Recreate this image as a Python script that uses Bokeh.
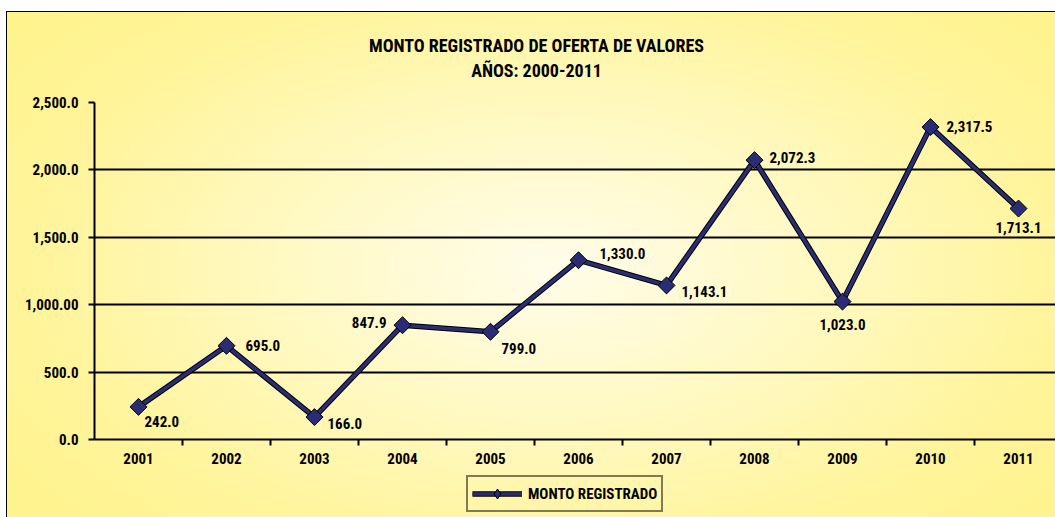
import math
from bokeh.plotting import figure
from bokeh.layouts import column
from bokeh.models import ColumnDataSource, FixedTicker, Legend, LegendItem, Label
from bokeh.embed import file_html
from bokeh.resources import INLINE

# ---- data ----
years = ["2001", "2002", "2003", "2004", "2005", "2006", "2007", "2008", "2009", "2010", "2011"]
monto = [242.0, 695.0, 166.0, 847.9, 799.0, 1330.0, 1143.1, 2072.3, 1023.0, 2317.5, 1713.1]
value_labels = ["242.0", "695.0", "166.0", "847.9", "799.0", "1,330.0", "1,143.1",
                "2,072.3", "1,023.0", "2,317.5", "1,713.1"]
y_ticks = [0, 500, 1000, 1500, 2000, 2500]
y_tick_labels = ["0.0", "500.0", "1,000.00", "1,500.0", "2,000.0", "2,500.0"]
title_lines = ["MONTO REGISTRADO DE OFERTA DE VALORES", "AÑOS: 2000-2011"]
series_name = "MONTO REGISTRADO"

# ---- label placement (styling, screen px; +dy = down) ----
lab_dx = [6, 19, 13, -16, 11, 21, 15, 15, 0, 16, 0]
lab_dy = [15, 0, 6, -3, 17, -7, 6, -3, 23, -1, 19]
lab_align = ["left", "left", "left", "right", "left", "left", "left", "left", "center", "left", "center"]

FONT = "'Roboto Condensed', 'Liberation Sans Narrow', Roboto, sans-serif"
NAVY = "#2B2D74"
W = 1055

xs = list(range(1, len(years) + 1))
src = ColumnDataSource(dict(x=xs, y=monto, txt=value_labels, dx=lab_dx, dy=lab_dy, al=lab_align))


def bare(fig):
    fig.background_fill_alpha = 0
    fig.border_fill_alpha = 0
    fig.outline_line_color = None


# ---- title strip ----
tf = figure(width=W, height=90, output_backend="svg", toolbar_location=None,
            x_axis_type=None, y_axis_type=None, x_range=(0, 1), y_range=(0, 1),
            min_border=0)
bare(tf)
for i, t in enumerate(title_lines):
    tf.add_layout(Label(x=442, y=45 - 25 * i, x_units="screen", y_units="screen",
                        text=t, text_align="center", text_baseline="middle",
                        text_font=FONT, text_font_style="bold",
                        text_font_size="18px", text_color="black"))

# ---- main chart ----
p = figure(width=W, height=385, output_backend="svg", toolbar_location=None,
           x_range=(0.5, 0.5 + 961 / 88), y_range=(0, 2500),
           min_border_left=94, min_border_right=0, min_border_top=12, min_border_bottom=36)
bare(p)

p.xaxis.ticker = FixedTicker(ticks=xs, minor_ticks=[i + 0.5 for i in xs[:-1]])
p.xaxis.major_label_overrides = {x: y for x, y in zip(xs, years)}
p.xaxis.major_tick_out = 0
p.xaxis.major_tick_in = 0
p.xaxis.minor_tick_out = 6
p.xaxis.minor_tick_in = 0
p.xaxis.minor_tick_line_color = "black"
p.xaxis.minor_tick_line_width = 2
p.xaxis.axis_line_color = "black"
p.xaxis.axis_line_width = 2
p.xaxis.major_label_standoff = 7

p.yaxis.ticker = FixedTicker(ticks=y_ticks)
p.yaxis.major_label_overrides = {t: l for t, l in zip(y_ticks, y_tick_labels)}
p.yaxis.major_tick_out = 6
p.yaxis.major_tick_in = 0
p.yaxis.major_tick_line_width = 2
p.yaxis.minor_tick_line_color = None
p.yaxis.axis_line_color = "black"
p.yaxis.axis_line_width = 2
p.yaxis.major_label_standoff = 10

for ax in (p.xaxis, p.yaxis):
    ax.major_label_text_font = FONT
    ax.major_label_text_font_style = "bold"
    ax.major_label_text_font_size = "15px"
    ax.major_label_text_color = "black"

p.xgrid.grid_line_color = None
p.ygrid.grid_line_color = "black"
p.ygrid.grid_line_width = 2

line_kw = dict(line_color="black", line_width=5.5)
navy_kw = dict(line_color=NAVY, line_width=3.5)
mark_kw = dict(marker="square", size=12, angle=math.pi / 4,
               fill_color=NAVY, line_color="black", line_width=1)
p.line("x", "y", source=src, **line_kw)
p.line("x", "y", source=src, **navy_kw)
p.scatter("x", "y", source=src, **mark_kw)

p.text("x", "y", text="txt", source=src, x_offset="dx", y_offset="dy",
       text_align="al", text_baseline="middle",
       text_font={"value": FONT}, text_font_style="bold",
       text_font_size="15px", text_color="black")

# ---- legend strip (same series renderers, viewed out of range so only the key shows) ----
lg = figure(width=W, height=42, output_backend="svg", toolbar_location=None,
            x_axis_type=None, y_axis_type=None, x_range=(-3, -2), y_range=(-3, -2),
            min_border=0)
bare(lg)
le = lg.line("x", "y", source=src, **line_kw)
ln = lg.line("x", "y", source=src, **navy_kw)
lm = lg.scatter("x", "y", source=src, marker="diamond", size=12,
                fill_color=NAVY, line_color="black", line_width=1)
legend = Legend(items=[LegendItem(label=series_name, renderers=[le, ln, lm])],
                location=(372, 5), orientation="horizontal",
                glyph_width=50, glyph_height=25, label_standoff=6,
                label_text_font=FONT, label_text_font_style="bold",
                label_text_font_size="15px", label_text_color="black",
                border_line_color="black", border_line_width=2,
                background_fill_alpha=0, padding=4, margin=0, spacing=0)
lg.add_layout(legend, "center")

page = column(tf, p, lg, spacing=0)
page.styles = {
    "background": ("linear-gradient(#fff,#fff) 0 0 / 6px 100% no-repeat, "
                   "linear-gradient(#fff,#fff) 0 0 / 100% 11px no-repeat, "
                   "linear-gradient(#000,#000) 6px 11px / 1px 100% no-repeat, "
                   "linear-gradient(#000,#000) 6px 11px / 100% 1px no-repeat, "
                   "radial-gradient(ellipse 70% 80% at 52% 52%, #FFFDEA 0%, #FFF9C4 35%, "
                   "#FFF49A 70%, #FFF38A 100%)"),
}

open("out.html", "w").write(file_html(page, INLINE))
